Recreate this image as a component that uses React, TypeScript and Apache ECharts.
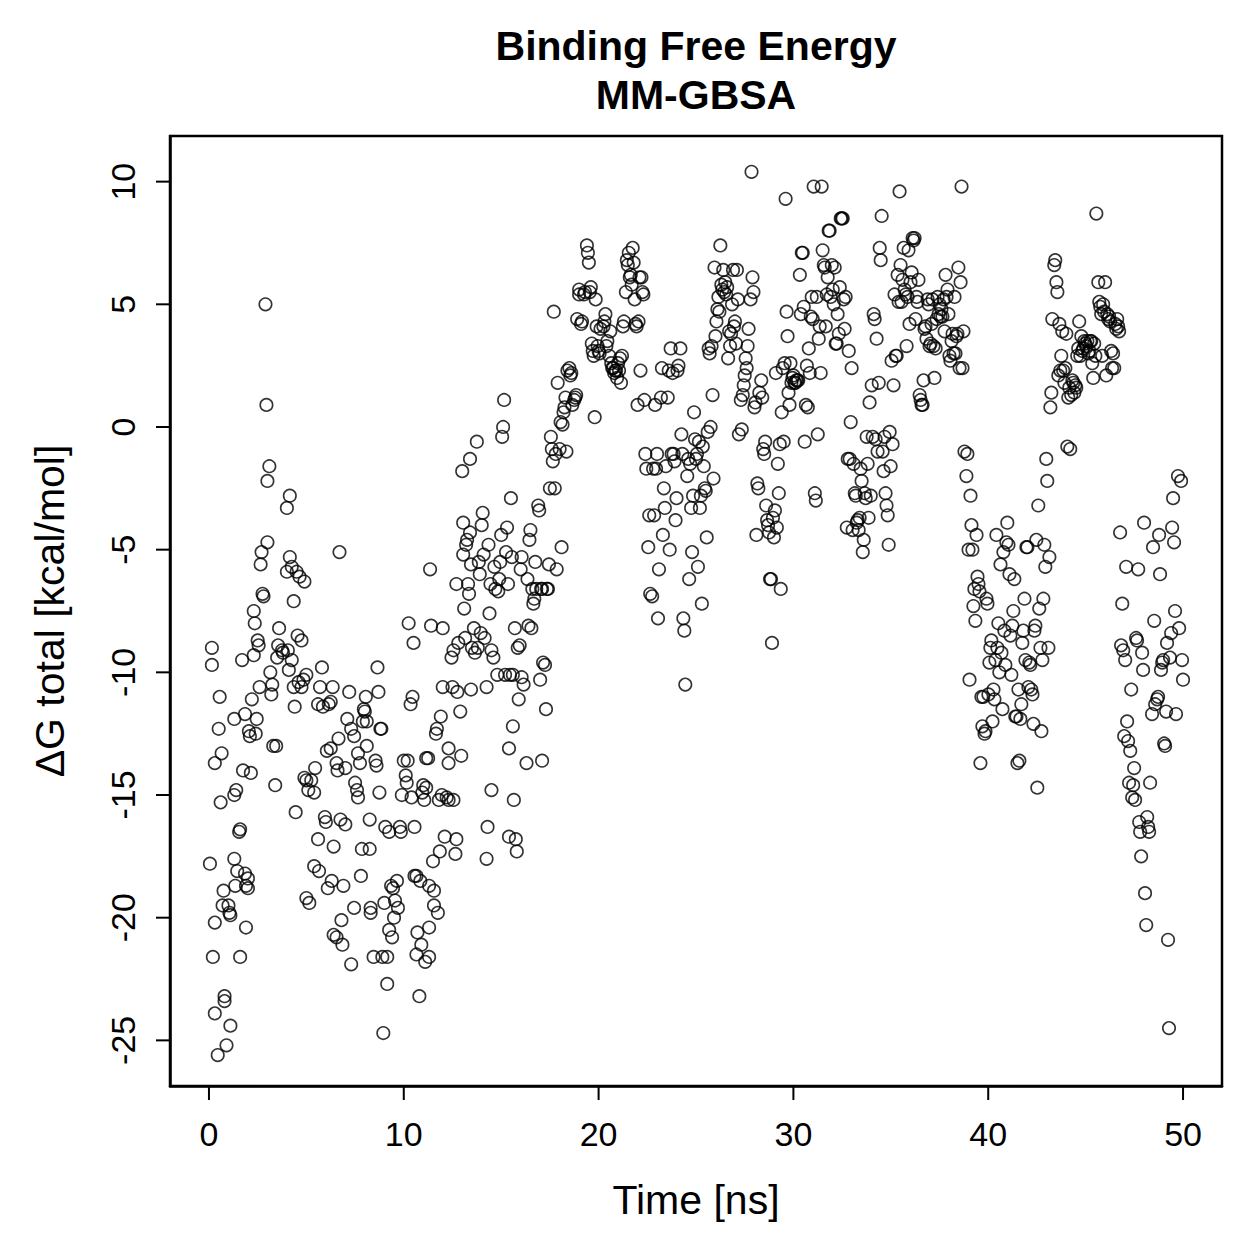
import React, { useEffect, useRef } from "react";
import * as echarts from "echarts";

const FONT = "'Liberation Sans', Arial, Helvetica, sans-serif";

const titleLines = ["Binding Free Energy", "MM-GBSA"];
const xTitle = "Time [ns]";
const yTitle = "ΔG total [kcal/mol]";
const xTicks = [0, 10, 20, 30, 40, 50];
const yTicks = [-25, -20, -15, -10, -5, 0, 5, 10];
const xRange = [-2, 52];
const yRange = [-26.86, 11.86];

// [time (ns), ΔG total (kcal/mol)]
const seg00to05: [number, number][] = [
  [0.15, -9.7], [0.15, -9.0], [0.05, -17.8], [0.2, -21.6], [0.3, -23.9], [0.45, -25.6], [0.3, -20.2], [0.3, -13.7],
  [0.5, -12.3], [0.55, -11.0], [0.6, -15.3], [0.65, -13.3], [0.75, -18.9], [0.7, -19.5], [0.8, -23.2], [0.8, -23.4],
  [0.9, -25.2], [1.1, -24.4], [1.0, -19.5], [1.05, -19.8], [1.1, -19.9], [1.3, -11.9], [1.3, -15.0], [1.4, -14.8],
  [1.3, -17.6], [1.35, -18.7], [1.45, -18.1], [1.55, -16.5], [1.6, -16.4], [1.6, -21.6], [1.7, -9.5], [1.75, -14.0],
  [1.85, -11.7], [1.85, -18.2], [1.9, -18.7], [2.0, -18.8], [2.0, -18.4], [1.9, -20.4], [2.05, -12.4], [2.1, -12.6],
  [2.15, -14.1], [2.2, -11.1], [2.3, -9.3], [2.3, -7.5], [2.35, -8.0], [2.4, -12.5], [2.45, -11.9], [2.5, -8.7],
  [2.55, -8.9], [2.6, -10.6], [2.65, -5.6], [2.7, -5.1], [2.75, -6.8], [2.8, -6.9], [2.9, 5.0], [2.95, 0.9],
  [3.0, -2.2], [3.1, -1.6], [3.0, -4.7], [3.15, -10.0], [3.2, -10.9], [3.25, -10.5], [3.3, -13.0], [3.45, -13.0],
  [3.4, -14.6], [3.55, -8.9], [3.5, -9.4], [3.6, -8.2], [3.75, -9.1], [3.8, -9.2], [4.0, -3.3], [4.15, -2.8],
  [4.0, -5.9], [4.15, -5.3], [4.25, -5.7], [4.35, -7.1], [4.05, -9.1], [4.1, -9.9], [4.25, -9.5], [4.35, -10.6],
  [4.4, -11.4], [4.5, -5.9], [4.65, -6.1], [4.9, -6.3], [4.55, -8.5], [4.75, -8.7], [4.6, -10.4], [4.85, -10.3],
  [4.75, -10.6], [5.0, -10.1], [4.45, -15.7], [4.9, -14.3], [5.0, -14.4], [5.1, -14.8], [5.0, -19.2], [5.15, -19.4],
];

const seg05to10: [number, number][] = [
  [5.25, -14.4], [5.4, -14.9], [5.45, -13.9], [5.4, -17.9], [5.6, -16.8], [5.65, -18.1], [5.6, -11.3], [5.7, -10.6],
  [5.8, -9.8], [5.85, -11.4], [5.95, -15.9], [6.0, -16.1], [6.15, -11.3], [6.25, -11.2], [6.35, -10.6], [6.05, -13.2],
  [6.25, -13.1], [6.1, -18.8], [6.3, -18.5], [6.4, -17.1], [6.4, -20.7], [6.55, -20.8], [6.7, -5.1], [6.55, -13.7],
  [6.6, -14.0], [6.65, -12.7], [6.75, -16.0], [6.85, -21.1], [6.8, -20.1], [6.9, -18.7], [7.0, -16.2], [7.0, -13.9],
  [7.1, -11.9], [7.2, -10.8], [7.3, -12.3], [7.3, -21.9], [7.45, -19.6], [7.45, -12.6], [7.5, -14.5], [7.6, -14.8],
  [7.65, -15.1], [7.65, -13.3], [7.75, -13.7], [7.8, -18.3], [7.85, -17.2], [7.9, -12.0], [7.95, -11.5], [8.0, -11.6],
  [8.05, -11.0], [8.1, -12.0], [8.1, -13.0], [8.25, -16.0], [8.25, -17.2], [8.3, -19.6], [8.3, -19.8], [8.45, -21.6],
  [8.55, -13.6], [8.6, -13.8], [8.65, -9.8], [8.7, -10.8], [8.75, -14.9], [8.8, -12.3], [8.85, -12.3], [8.9, -21.6],
  [8.95, -24.7], [9.0, -19.4], [9.05, -16.3], [9.15, -21.6], [9.15, -22.7], [9.25, -20.5], [9.25, -16.5], [9.35, -18.7],
  [9.45, -18.8], [9.4, -20.8], [9.5, -20.0], [9.55, -19.3], [9.65, -18.5], [9.7, -19.6], [9.8, -16.3], [9.85, -16.5],
  [9.9, -15.0],
];

const seg10to15: [number, number][] = [
  [10.0, -13.6], [10.1, -14.2], [10.15, -14.5], [10.2, -13.6], [10.25, -8.0], [10.35, -11.3], [10.45, -11.0], [10.5, -8.8],
  [10.4, -15.1], [10.55, -16.3], [10.55, -18.3], [10.65, -18.3], [10.65, -21.5], [10.7, -20.6], [10.8, -23.2], [10.85, -18.5],
  [10.9, -21.1], [10.95, -14.9], [11.0, -14.6], [11.05, -15.2], [11.15, -14.7], [11.15, -13.5], [11.25, -13.5], [11.1, -21.8],
  [11.3, -21.6], [11.3, -18.7], [11.3, -20.4], [11.35, -5.8], [11.4, -8.1], [11.5, -17.7], [11.55, -18.9], [11.55, -19.5],
  [11.65, -12.5], [11.7, -12.3], [11.75, -19.8], [11.8, -15.2], [11.85, -17.3], [11.9, -11.8], [11.95, -15.0], [12.0, -8.2],
  [12.0, -10.6], [12.1, -16.7], [12.2, -15.1], [12.3, -13.1], [12.3, -13.7], [12.3, -15.2], [12.45, -9.4], [12.5, -10.6],
  [12.55, -9.1], [12.55, -15.2], [12.65, -17.4], [12.7, -16.8], [12.7, -6.4], [12.75, -10.8], [12.8, -8.8], [12.9, -11.6],
  [12.95, -13.4], [13.0, -1.8], [13.05, -5.2], [13.05, -3.9], [13.1, -7.4], [13.15, -8.6], [13.2, -4.8], [13.25, -4.6],
  [13.3, -6.4], [13.35, -6.8], [13.4, -4.3], [13.4, -1.3], [13.45, -5.6], [13.45, -10.7], [13.5, -9.0], [13.6, -8.2],
  [13.65, -9.2], [13.75, -0.6], [13.8, -9.0], [13.85, -5.5], [13.9, -6.0], [13.95, -8.4], [14.0, -4.0], [14.05, -3.5],
  [14.1, -5.2], [14.15, -8.6], [14.25, -10.6], [14.25, -17.6], [14.3, -16.3], [14.35, -4.8], [14.4, -7.6], [14.45, -6.4],
  [14.5, -14.8], [14.5, -9.1], [14.6, -9.4], [14.65, -5.7], [14.7, -6.6], [14.8, -10.1], [14.85, -6.7], [14.9, -6.2],
  [14.95, -5.5],
];

const seg15to20: [number, number][] = [
  [15.0, -4.4], [15.05, -0.4], [15.1, 0.0], [15.15, 1.1], [15.2, -10.1], [15.25, -5.1], [15.3, -4.1], [15.35, -6.4],
  [15.4, -13.1], [15.4, -16.7], [15.45, -10.1], [15.5, -2.9], [15.55, -5.3], [15.6, -10.1], [15.6, -12.2], [15.65, -15.2],
  [15.7, -8.2], [15.75, -16.8], [15.8, -17.3], [15.85, -9.0], [15.9, -11.1], [15.95, -8.9], [16.0, -5.8], [16.05, -10.2],
  [16.05, -5.3], [16.15, -10.5], [16.3, -13.7], [16.35, -6.2], [16.4, -8.1], [16.45, -4.6], [16.5, -4.2], [16.55, -8.2],
  [16.6, -6.6], [16.65, -7.2], [16.7, -7.0], [16.75, -5.5], [16.8, -6.6], [16.9, -3.2], [16.95, -3.4], [17.0, -10.3],
  [17.05, -6.6], [17.1, -6.6], [17.1, -13.6], [17.15, -9.6], [17.25, -9.7], [17.3, -11.5], [17.35, -6.6], [17.4, -6.6],
  [17.45, -5.6], [17.5, -2.5], [17.55, -0.4], [17.6, -0.9], [17.65, -1.4], [17.7, 4.7], [17.75, -2.5], [17.8, -1.1],
  [17.85, -5.8], [17.9, 1.8], [18.0, -0.9], [18.05, 0.2], [18.1, -4.9], [18.15, 0.1], [18.2, 0.6], [18.25, 0.8],
  [18.3, 1.2], [18.35, -1.0], [18.4, 2.3], [18.5, 2.4], [18.55, 2.1], [18.6, 2.2], [18.65, 0.9], [18.75, 1.1],
  [18.8, 1.2], [18.85, 1.3], [18.9, 4.4], [19.0, 5.6], [19.0, 5.4], [19.1, 4.2], [19.15, 4.3], [19.25, 5.4],
  [19.3, 5.5], [19.4, 7.4], [19.45, 7.1], [19.5, 6.7], [19.55, 5.5], [19.6, 5.7], [19.65, 3.4], [19.7, 3.1],
  [19.75, 2.9], [19.8, 0.4], [19.85, 5.2], [19.9, 4.1], [19.95, 3.3],
];

const seg20to25: [number, number][] = [
  [20.0, 3.1], [20.05, 3.0], [20.1, 4.0], [20.25, 4.1], [20.3, 4.3], [20.35, 4.6], [20.4, 3.3], [20.45, 3.5],
  [20.55, 2.9], [20.6, 3.9], [20.65, 2.6], [20.7, 2.4], [20.75, 2.4], [20.8, 2.2], [20.85, 2.3], [20.9, 2.3],
  [20.95, 2.0], [21.0, 2.6], [21.05, 2.3], [21.1, 2.8], [21.15, 1.8], [21.2, 2.9], [21.25, 4.1], [21.3, 4.3],
  [21.4, 5.5], [21.45, 6.8], [21.5, 6.6], [21.55, 7.1], [21.6, 6.1], [21.65, 6.2], [21.7, 5.8], [21.75, 7.3],
  [21.8, 6.7], [21.85, 5.2], [21.9, 4.2], [21.95, 4.1], [22.0, 0.9], [22.05, 4.3], [22.1, 6.1], [22.15, 2.3],
  [22.2, 6.1], [22.25, 5.5], [22.3, 5.4], [22.35, 1.1], [22.4, -1.1], [22.45, -1.7], [22.55, -4.9], [22.6, -3.6],
  [22.65, -6.8], [22.75, -6.9], [22.8, -1.7], [22.85, -3.6], [22.9, 0.9], [22.95, -1.7], [23.0, -1.1], [23.05, -7.8],
  [23.1, -5.8], [23.2, 1.2], [23.25, 2.4], [23.3, -4.4], [23.35, -2.5], [23.4, -3.3], [23.45, -1.6], [23.55, 1.2],
  [23.6, 2.3], [23.65, -5.0], [23.7, 3.2], [23.75, -1.1], [23.8, 2.2], [23.85, -1.1], [23.9, -1.4], [23.95, -3.8],
  [24.0, -2.9], [24.05, 2.3], [24.1, 2.5], [24.2, 3.2], [24.25, -0.3], [24.3, -1.1], [24.35, -7.8], [24.4, -8.3],
  [24.45, -10.5], [24.55, -2.0], [24.6, -1.3], [24.65, -6.2], [24.7, -1.5], [24.75, -3.3], [24.8, -5.1], [24.85, -2.8],
  [24.9, 0.6], [24.95, -0.5],
];

const seg25to30: [number, number][] = [
  [25.0, -1.3], [25.05, -1.1], [25.1, -5.7], [25.15, -0.6], [25.2, -3.3], [25.25, -2.8], [25.3, -7.2], [25.35, -0.8],
  [25.4, -1.6], [25.45, -2.5], [25.5, -2.6], [25.55, -4.5], [25.6, -0.2], [25.65, 3.2], [25.7, 3.0], [25.75, 0.0],
  [25.8, 3.3], [25.85, 1.3], [25.9, -2.1], [25.95, 6.5], [26.0, 3.7], [26.05, 4.3], [26.1, 4.8], [26.15, 5.3],
  [26.2, 4.7], [26.25, 7.4], [26.3, 5.8], [26.35, 5.6], [26.4, 6.4], [26.45, 5.5], [26.5, 5.9], [26.55, 5.4],
  [26.6, 5.7], [26.65, 2.8], [26.7, 3.9], [26.75, 3.3], [26.8, 3.8], [26.85, 5.0], [26.9, 6.4], [26.95, 4.1],
  [27.0, 4.3], [27.05, 3.4], [27.1, 6.4], [27.15, 5.2], [27.2, -0.3], [27.3, 1.1], [27.35, -0.1], [27.4, 1.3],
  [27.45, 1.7], [27.5, 2.1], [27.55, 2.8], [27.6, 2.4], [27.65, 3.3], [27.7, 4.0], [27.8, 5.2], [27.85, 10.4],
  [27.9, 6.1], [27.95, 5.5], [28.0, 0.8], [28.05, 1.0], [28.1, -4.4], [28.15, -2.3], [28.2, -2.5], [28.25, 1.4],
  [28.35, 1.9], [28.4, 1.2], [28.45, -0.9], [28.5, -1.1], [28.55, -0.6], [28.6, -3.2], [28.65, -3.8], [28.7, -4.0],
  [28.75, -4.3], [28.8, -6.2], [28.85, -6.2], [28.9, -8.8], [28.95, -3.7], [29.0, -4.5], [29.05, -3.4], [29.1, 2.2],
  [29.15, -4.1], [29.2, -1.5], [29.25, -2.7], [29.3, -0.7], [29.35, -6.6], [29.4, 0.6], [29.45, 2.4], [29.5, -0.6],
  [29.55, 2.6], [29.6, 9.3], [29.65, 4.7], [29.7, 3.7], [29.75, 1.4], [29.8, 0.9], [29.85, 2.6], [29.9, 1.8],
  [29.95, 2.0],
];

const seg30to35: [number, number][] = [
  [30.0, 2.1], [30.05, 1.8], [30.1, 1.8], [30.15, 1.9], [30.2, 1.9], [30.25, 1.9], [30.33, 6.2], [30.38, 4.6],
  [30.43, 7.1], [30.48, 7.1], [30.53, 4.9], [30.58, -0.6], [30.64, 0.9], [30.69, 2.5], [30.74, 0.8], [30.79, 3.2],
  [30.84, 2.2], [30.89, 4.5], [30.94, 5.3], [30.99, 4.4], [31.04, 9.8], [31.1, -2.7], [31.15, -3.0], [31.2, 5.3],
  [31.25, -0.3], [31.3, 3.6], [31.35, 4.1], [31.4, 2.2], [31.45, 9.8], [31.5, 7.2], [31.56, 6.6], [31.61, 6.5],
  [31.66, 4.1], [31.71, 5.4], [31.76, 6.1], [31.81, 8.0], [31.86, 8.0], [31.91, 5.3], [31.97, 6.6], [32.02, 5.6],
  [32.07, 5.0], [32.12, 6.5], [32.17, 3.4], [32.22, 3.4], [32.27, 4.6], [32.33, 3.8], [32.38, 5.7], [32.43, 8.5],
  [32.48, 8.5], [32.53, 8.5], [32.58, 5.2], [32.63, 4.0], [32.68, 5.3], [32.74, -4.1], [32.79, -1.3], [32.84, 3.1],
  [32.89, -1.3], [32.94, 0.2], [32.99, 2.4], [33.04, -4.2], [33.09, -1.5], [33.15, -2.7], [33.2, -2.8], [33.25, -3.9],
  [33.3, -3.8], [33.35, -4.2], [33.4, -3.7], [33.45, -1.7], [33.5, -2.2], [33.56, -5.1], [33.61, -4.6], [33.66, -2.7],
  [33.71, -2.9], [33.76, -0.4], [33.81, -1.5], [33.86, -3.7], [33.91, 1.0], [33.97, -2.8], [34.02, 1.7], [34.07, -0.4],
  [34.12, 4.6], [34.17, 4.4], [34.22, -0.5], [34.27, 3.6], [34.32, -1.0], [34.38, 1.8], [34.43, 7.3], [34.48, 6.8],
  [34.53, 8.6], [34.58, -1.0], [34.63, -1.8], [34.68, -0.4], [34.73, -2.7], [34.78, -3.2], [34.84, -3.6], [34.89, -4.8],
  [34.94, -0.2], [34.99, -1.6],
];

const seg35to40: [number, number][] = [
  [35.04, 2.7], [35.09, -0.7], [35.14, 1.7], [35.19, 5.4], [35.25, 2.9], [35.3, 2.9], [35.35, 6.2], [35.4, 5.1],
  [35.45, 9.6], [35.5, 6.6], [35.55, 5.1], [35.6, 6.0], [35.66, 7.3], [35.71, 5.6], [35.76, 5.4], [35.81, 3.3],
  [35.86, 5.3], [35.91, 7.2], [35.96, 4.2], [36.01, 5.9], [36.07, 6.3], [36.12, 7.7], [36.17, 7.6], [36.22, 7.7],
  [36.27, 4.4], [36.32, 5.3], [36.37, 5.1], [36.42, 6.0], [36.48, 1.3], [36.53, 1.1], [36.58, 0.9], [36.63, 0.9],
  [36.68, 1.9], [36.73, 4.0], [36.78, 4.1], [36.83, 3.6], [36.89, 5.2], [36.94, 5.0], [36.99, 3.3], [37.04, 3.4],
  [37.09, 4.2], [37.14, 5.2], [37.19, 3.3], [37.24, 2.0], [37.3, 3.2], [37.35, 4.4], [37.4, 5.3], [37.45, 4.6],
  [37.5, 5.0], [37.55, 4.5], [37.6, 4.8], [37.65, 4.5], [37.71, 5.2], [37.76, 3.9], [37.81, 6.2], [37.86, 5.3],
  [37.91, 5.6], [37.96, 4.6], [38.01, 2.9], [38.06, 2.7], [38.12, 3.5], [38.17, 3.8], [38.22, 3.0], [38.27, 5.3],
  [38.32, 3.0], [38.37, 3.7], [38.42, 3.8], [38.47, 6.5], [38.53, 2.4], [38.58, 5.9], [38.63, 9.8], [38.68, 2.4],
  [38.73, 3.9], [38.78, -1.0], [38.88, -2.0], [38.93, -1.1], [38.99, -5.0], [39.04, -10.3], [39.09, -2.8], [39.14, -4.0],
  [39.19, -5.0], [39.24, -7.3], [39.29, -6.6], [39.34, -7.9], [39.4, -4.4], [39.45, -6.1], [39.5, -6.4], [39.55, -6.7],
  [39.6, -13.7], [39.65, -11.0], [39.7, -12.2], [39.75, -11.0], [39.81, -12.5], [39.86, -12.4], [39.91, -7.0], [39.96, -7.2],
];

const seg40to45: [number, number][] = [
  [40.01, -10.9], [40.06, -9.6], [40.11, -9.0], [40.16, -8.7], [40.22, -12.0], [40.27, -10.7], [40.32, -11.1], [40.37, -9.5],
  [40.42, -4.4], [40.47, -9.0], [40.52, -8.0], [40.57, -10.0], [40.63, -5.6], [40.68, -9.2], [40.73, -11.5], [40.78, -5.1],
  [40.83, -8.3], [40.88, -9.7], [40.93, -4.7], [40.98, -3.9], [41.04, -4.8], [41.09, -6.0], [41.14, -8.5], [41.19, -10.1],
  [41.24, -8.1], [41.29, -7.5], [41.34, -6.2], [41.39, -11.8], [41.45, -11.8], [41.5, -13.7], [41.55, -10.7], [41.6, -13.6],
  [41.65, -11.9], [41.7, -11.3], [41.75, -8.8], [41.8, -8.3], [41.86, -7.0], [41.91, -9.5], [41.96, -4.9], [42.01, -4.9],
  [42.06, -10.6], [42.11, -9.6], [42.16, -9.7], [42.21, -10.7], [42.27, -10.9], [42.32, -12.1], [42.37, -8.3], [42.42, -8.1],
  [42.47, -4.6], [42.52, -14.7], [42.57, -3.2], [42.62, -7.4], [42.68, -9.0], [42.73, -12.4], [42.78, -9.5], [42.83, -7.0],
  [42.88, -4.8], [42.93, -5.7], [42.98, -1.3], [43.03, -2.2], [43.09, -9.0], [43.14, -5.3], [43.19, 0.8], [43.24, 1.4],
  [43.29, 4.4], [43.39, 6.6], [43.44, 6.8], [43.5, 5.9], [43.55, 5.5], [43.6, 2.1], [43.65, 4.2], [43.7, 2.3],
  [43.75, 2.9], [43.8, 3.9], [43.85, 2.3], [43.91, 1.8], [43.96, 2.4], [44.01, 3.8], [44.06, -0.8], [44.11, 1.2],
  [44.16, 1.6], [44.21, -0.9], [44.26, 1.3], [44.32, 1.9], [44.37, 1.8], [44.42, 1.4], [44.47, 1.7], [44.52, 1.6],
  [44.57, 2.9], [44.62, 3.2], [44.67, 4.3], [44.73, 2.9], [44.78, 3.7], [44.83, 3.1], [44.88, 3.2], [44.93, 3.5],
  [44.98, 3.4],
];

const seg45to50: [number, number][] = [
  [45.03, 3.3], [45.09, 3.5], [45.14, 3.0], [45.19, 3.1], [45.24, 3.5], [45.29, 3.5], [45.34, 2.6], [45.39, 2.0],
  [45.44, 3.4], [45.5, 2.9], [45.55, 8.7], [45.65, 5.9], [45.7, 5.1], [45.75, 4.9], [45.8, 4.6], [45.85, 2.9],
  [45.9, 5.0], [45.95, 4.7], [46.0, 5.9], [46.06, 2.1], [46.11, 4.6], [46.16, 4.4], [46.21, 4.5], [46.26, 4.3],
  [46.31, 3.1], [46.36, 2.4], [46.41, 3.0], [46.47, 2.4], [46.52, 4.2], [46.57, 4.0], [46.62, 4.4], [46.67, 4.1],
  [46.72, 3.9], [46.77, -4.3], [46.82, -8.9], [46.88, -7.2], [46.93, -9.1], [46.98, -12.6], [47.03, -9.5], [47.08, -5.7],
  [47.13, -12.0], [47.18, -12.8], [47.23, -14.5], [47.29, -13.2], [47.34, -10.7], [47.39, -15.1], [47.44, -14.6], [47.49, -13.9],
  [47.54, -15.2], [47.59, -8.6], [47.64, -8.7], [47.7, -5.8], [47.75, -16.1], [47.8, -16.5], [47.85, -17.5], [47.9, -9.2],
  [47.95, -9.9], [48.0, -3.9], [48.05, -19.0], [48.11, -20.3], [48.16, -15.9], [48.21, -16.3], [48.26, -16.5], [48.31, -14.5],
  [48.41, -11.7], [48.46, -4.9], [48.52, -7.9], [48.57, -11.3], [48.67, -11.1], [48.72, -11.0], [48.77, -4.4], [48.82, -6.0],
  [48.87, -9.9], [48.93, -9.6], [48.98, -9.5], [49.03, -12.9], [49.08, -13.0], [49.13, -11.6], [49.18, -8.8], [49.23, -20.9],
  [49.28, -24.5], [49.33, -9.4], [49.39, -8.4], [49.44, -4.1], [49.49, -2.9], [49.54, -4.7], [49.59, -7.5], [49.64, -11.7],
  [49.74, -2.0], [49.8, -8.2], [49.9, -2.2], [49.95, -9.5], [50.0, -10.3],
];

const allSamples: [number, number][] = [
  ...seg00to05, ...seg05to10, ...seg10to15, ...seg15to20, ...seg20to25,
  ...seg25to30, ...seg30to35, ...seg35to40, ...seg40to45, ...seg45to50,
];

const GRID = { left: 170, top: 136, width: 1052, height: 950 };
const TICK_LEN = 14;

export default function App() {
  const ref = useRef<HTMLDivElement>(null);

  useEffect(() => {
    document.body.style.margin = "0";
    if (!ref.current) return;
    const chart = echarts.init(ref.current, null, { renderer: "svg" });
    const cx = GRID.left + GRID.width / 2;

    chart.setOption({
      animation: false,
      grid: {
        left: GRID.left,
        top: GRID.top,
        width: GRID.width,
        height: GRID.height,
        show: true,
        borderColor: "#000",
        borderWidth: 2.5,
      },
      xAxis: {
        type: "value",
        min: xRange[0],
        max: xRange[1],
        axisLine: { show: true, onZero: false, lineStyle: { color: "#000", width: 2.5 } },
        axisTick: { show: false },
        axisLabel: {
          customValues: xTicks,
          margin: 31,
          fontSize: 34,
          color: "#000",
          fontFamily: FONT,
        },
        splitLine: { show: false },
      },
      yAxis: {
        type: "value",
        min: yRange[0],
        max: yRange[1],
        axisLine: { show: true, onZero: false, lineStyle: { color: "#000", width: 2.5 } },
        axisTick: { show: false },
        axisLabel: {
          customValues: yTicks,
          rotate: 90,
          margin: 30,
          fontSize: 34,
          color: "#000",
          fontFamily: FONT,
        },
        splitLine: { show: false },
      },
      graphic: [
        {
          type: "text",
          x: cx,
          y: 46,
          style: { text: titleLines[0], align: "center", verticalAlign: "middle", font: `bold 41px ${FONT}`, fill: "#000" },
        },
        {
          type: "text",
          x: cx,
          y: 95,
          style: { text: titleLines[1], align: "center", verticalAlign: "middle", font: `bold 41px ${FONT}`, fill: "#000" },
        },
        {
          type: "text",
          x: cx,
          y: 1200,
          style: { text: xTitle, align: "center", verticalAlign: "middle", font: `41px ${FONT}`, fill: "#000" },
        },
        {
          type: "text",
          x: 50,
          y: GRID.top + GRID.height / 2,
          rotation: Math.PI / 2,
          style: { text: yTitle, align: "center", verticalAlign: "middle", font: `41px ${FONT}`, fill: "#000" },
        },
      ],
      series: [
        {
          type: "scatter",
          name: "ΔG total",
          data: allSamples,
          symbol: "circle",
          symbolSize: 12.5,
          silent: true,
          itemStyle: {
            color: "rgba(0,0,0,0)",
            borderColor: "#000",
            borderWidth: 1.6,
          },
        },
        {
          // x-axis tick marks, placed through the axis scales
          type: "custom",
          name: "xTicks",
          silent: true,
          clip: false,
          z: 10,
          data: xTicks.map((v) => [v, yRange[0]]),
          renderItem: (params: any, api: any) => {
            const p = api.coord([api.value(0), api.value(1)]);
            return {
              type: "rect",
              shape: { x: p[0] - 1, y: p[1], width: 2, height: TICK_LEN },
              style: { fill: "#000" },
            };
          },
        },
        {
          // y-axis tick marks, placed through the axis scales
          type: "custom",
          name: "yTicks",
          silent: true,
          clip: false,
          z: 10,
          data: yTicks.map((v) => [xRange[0], v]),
          renderItem: (params: any, api: any) => {
            const p = api.coord([api.value(0), api.value(1)]);
            return {
              type: "rect",
              shape: { x: p[0] - TICK_LEN, y: p[1] - 1, width: TICK_LEN, height: 2 },
              style: { fill: "#000" },
            };
          },
        },
      ],
    });

    return () => chart.dispose();
  }, []);

  return <div ref={ref} style={{ width: 1259, height: 1259 }} />;
}
